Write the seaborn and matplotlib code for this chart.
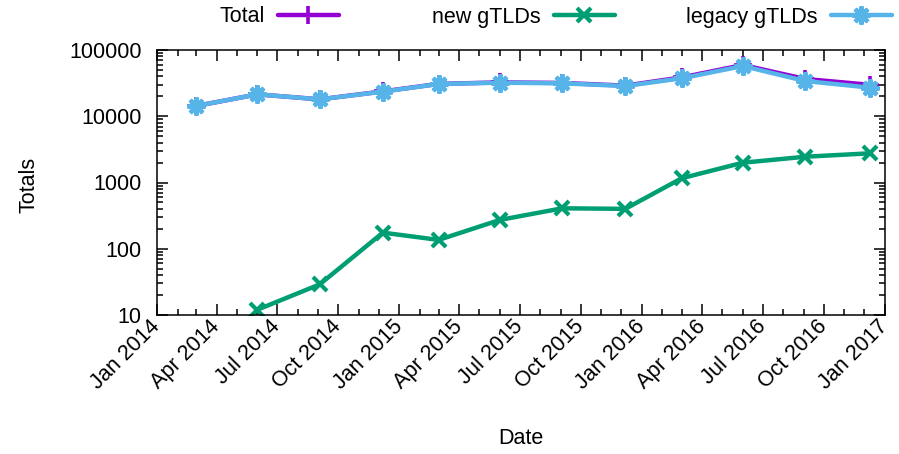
import pandas as pd
import matplotlib.pyplot as plt
import matplotlib.dates as mdates
import matplotlib.ticker as mticker
import seaborn as sns

# quarterly snapshot dates
dates = ["2014-03-01", "2014-06-01", "2014-09-03", "2014-12-07", "2015-03-01", "2015-06-01",
         "2015-09-03", "2015-12-07", "2016-03-01", "2016-06-01", "2016-09-03", "2016-12-10"]
legacy_gtlds = [14300, 21400, 18000, 23500, 30700, 32100, 31400, 28600, 37400, 57300, 34000, 27000]
new_gtlds = [None, 12, 29, 175, 136, 272, 408, 400, 1160, 1990, 2450, 2760]
total = [14300, 21400, 18000, 23700, 30800, 32400, 31800, 29000, 38600, 59300, 36500, 29800]

ytick_values = [10, 100, 1000, 10000, 100000]

sns.set_style("ticks", {'text.color': 'black', 'axes.labelcolor': 'black',
                        'xtick.color': 'black', 'ytick.color': 'black'})
plt.rcParams['font.family'] = ['Liberation Sans', 'DejaVu Sans']

df = pd.DataFrame({'Date': pd.to_datetime(dates), 'Total': total,
                   'new gTLDs': new_gtlds, 'legacy gTLDs': legacy_gtlds})

series = [
    ('Total', '#9400d3', '+', 13, 2.6),
    ('new gTLDs', '#009e73', 'x', 10, 3.0),
    ('legacy gTLDs', '#56b4e9', (8, 2, 0), 13, 3.0),
]

fig = plt.figure(figsize=(8.99, 4.54), dpi=100)
ax = fig.add_axes([157 / 899, 1 - 315 / 454, 728 / 899, 265 / 454])

for name, color, marker, ms, mew in series:
    sub = df[['Date', name]].dropna()
    sns.lineplot(data=sub, x='Date', y=name, ax=ax, color=color, linewidth=3.2,
                 marker=marker, markersize=ms, markeredgewidth=mew,
                 markeredgecolor=color, label=name)

handles, labels = ax.get_legend_handles_labels()
ax.get_legend().remove()

# one key entry per column, gnuplot style (text then sample)
right_edges = [339, 615, 892]
for h, lab, xr in zip(handles, labels, right_edges):
    fig.legend([h], [lab], loc='center right', bbox_to_anchor=(xr / 899, 1 - 17 / 454),
               frameon=False, markerfirst=False, fontsize=15.5, handlelength=2.85,
               handletextpad=0.6, borderpad=0, borderaxespad=0, labelcolor='black')

ax.set_yscale('log')
ax.set_ylim(10, 100000)
ax.set_yticks(ytick_values)
ax.set_yticklabels([str(v) for v in ytick_values])
ax.yaxis.set_minor_locator(mticker.LogLocator(base=10, subs=range(2, 10)))
ax.yaxis.set_minor_formatter(mticker.NullFormatter())

ax.set_xlim(pd.Timestamp('2014-01-01'), pd.Timestamp('2017-01-01'))
ax.xaxis.set_major_locator(mdates.MonthLocator(bymonth=[1, 4, 7, 10]))
ax.xaxis.set_minor_locator(mdates.MonthLocator())
ax.xaxis.set_major_formatter(mdates.DateFormatter('%b %Y'))

ax.tick_params(which='both', direction='in', top=True, right=True, color='black',
               labelcolor='black', width=1.1)
ax.tick_params(which='major', length=8, labelsize=15.5)
ax.tick_params(which='minor', length=4.5)
ax.tick_params(axis='y', which='major', pad=11)
ax.tick_params(axis='x', which='major', pad=6)
for lbl in ax.get_xticklabels():
    lbl.set_rotation(45)
    lbl.set_ha('right')
    lbl.set_va('center')
    lbl.set_rotation_mode('anchor')

for sp in ax.spines.values():
    sp.set_color('black')
    sp.set_linewidth(1.1)

ax.set_ylabel('Totals', fontsize=15.5, color='black')
ax.set_xlabel('Date', fontsize=15.5, color='black')
ax.yaxis.set_label_coords(-0.162, 0.49)
ax.xaxis.set_label_coords(0.5, -0.425)

fig.savefig('out.png', dpi=100)
